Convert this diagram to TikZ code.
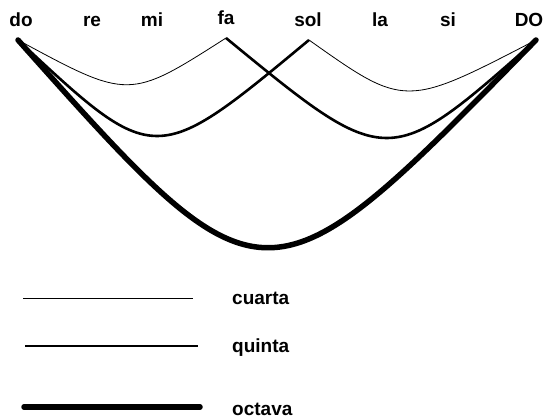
\documentclass[tikz,border=0pt]{standalone}
\usepackage{fontspec}
\setmainfont{Liberation Sans}
\usetikzlibrary{positioning}

\begin{document}
\begin{tikzpicture}[
  x=1pt, y=-1pt,
  nota/.style={font=\fontsize{19}{21}\selectfont\bfseries,
               anchor=base, inner sep=0pt},
  ley/.style={nota, anchor=base west},
  cuarta/.style={line width=0.8pt},
  quinta/.style={line width=2.6pt},
  octava/.style={line width=5.5pt, line cap=round},
]
\useasboundingbox (0,0) rectangle (546,419);

% Scale: do re mi fa sol la si DO
\node[nota] (do)  at ( 21,27) {do};
\node[nota] (re)  at ( 92,27) {re};
\node[nota] (mi)  at (152,27) {mi};
\node[nota] (fa)  at (226,25) {fa};
\node[nota] (sol) at (308,27) {sol};
\node[nota] (la)  at (380,27) {la};
\node[nota] (si)  at (448,27) {si};
\node[nota] (DO)  at (529,27) {DO};

% Arc ends under the notes
\coordinate (p-do)  at ( 18,40);
\coordinate (p-fa)  at (226,38);
\coordinate (p-sol) at (309,40);
\coordinate (p-DO)  at (536,40);

% --- Octava ---
\draw[octava] (p-do) .. controls (265,317) .. (p-DO);

% --- Quintas ---
\draw[quinta] (p-do) .. controls (155,168) .. (p-sol);
\draw[quinta] (p-fa) .. controls (388,171) .. (p-DO);

% --- Cuartas ---
\draw[cuarta] (p-do)  .. controls (129,100) .. (p-fa);
\draw[cuarta] (p-sol) .. controls (405,108) .. (p-DO);

% --- Legend ---
\coordinate (c-a) at ( 23,298);
\coordinate (c-b) at (193,298);
\coordinate (q-a) at ( 25,346);
\coordinate (q-b) at (198,346);
\coordinate (o-a) at ( 24,407);
\coordinate (o-b) at (200,407);
\draw[cuarta] (c-a) -- (c-b);
\draw[quinta] (q-a) -- (q-b);
\draw[octava] (o-a) -- (o-b);
\node[ley] (t-cuarta) at (232,305) {cuarta};
\node[ley] (t-quinta) at (232,353) {quinta};
\node[ley] (t-octava) at (232,415) {octava};
\end{tikzpicture}
\end{document}
